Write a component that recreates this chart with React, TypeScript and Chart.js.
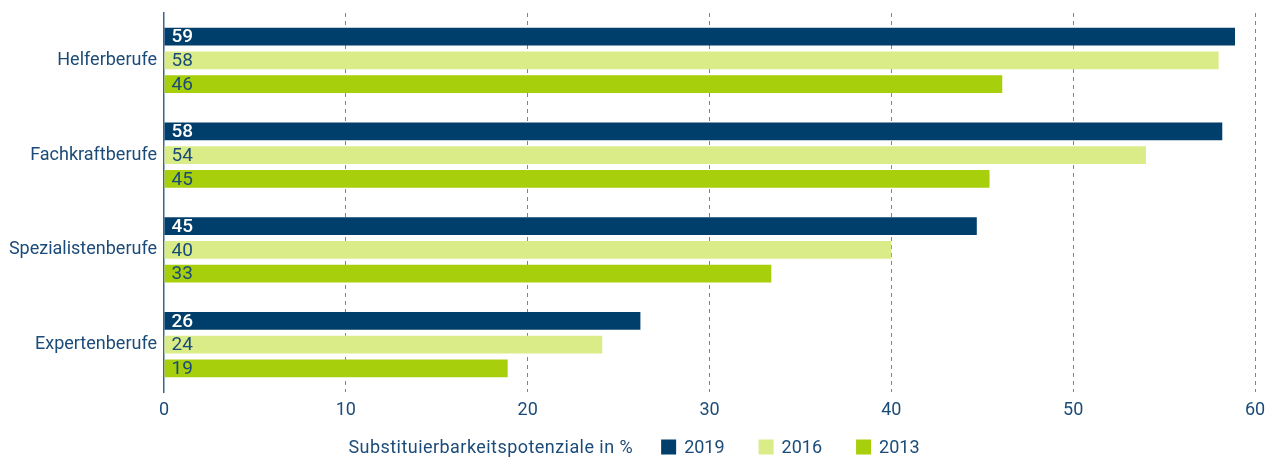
import React, { useEffect, useRef } from "react";
import { Chart, registerables } from "chart.js";

Chart.register(...registerables);

const categories = ["Helferberufe", "Fachkraftberufe", "Spezialistenberufe", "Expertenberufe"];
const seriesNames = ["2019", "2016", "2013"];
const values2019 = [58.9, 58.2, 44.7, 26.2];
const values2016 = [58.0, 54.0, 40.0, 24.1];
const values2013 = [46.1, 45.4, 33.4, 18.9];
const xMin = 0;
const xMax = 60;
const xStep = 10;
const legendTitle = "Substituierbarkeitspotenziale in %";

const FONT = "Roboto";
const TEXT = "#1b4b78";
const DARK = "#003f6b";
const LIGHT = "#d9ec87";
const GREEN = "#a7cf0c";
const GRID = "#6d89a3";

const seriesColors = [DARK, LIGHT, GREEN];
const labelColors = ["#ffffff", TEXT, TEXT];
const labelWeights = ["500", "400", "400"];

const valueLabels = {
  id: "valueLabels",
  afterDatasetsDraw(chart: any) {
    const ctx = chart.ctx;
    ctx.save();
    chart.data.datasets.forEach((ds: any, di: number) => {
      const meta = chart.getDatasetMeta(di);
      meta.data.forEach((el: any, i: number) => {
        const v = ds.data[i];
        ctx.font = `${labelWeights[di]} 19px ${FONT}`;
        ctx.fillStyle = labelColors[di];
        ctx.textAlign = "left";
        ctx.textBaseline = "middle";
        ctx.fillText(String(Math.round(v)), el.base + 7, el.y + 1);
      });
    });
    ctx.restore();
  },
};

const customLegend = {
  id: "customLegend",
  afterDraw(chart: any) {
    const ctx = chart.ctx;
    ctx.save();
    ctx.font = `400 18px ${FONT}`;
    ctx.textBaseline = "middle";
    ctx.textAlign = "left";
    const box = 15;
    const boxGap = 8;
    const titleGap = 28;
    const itemGap = 34;
    (ctx as any).letterSpacing = "0.45px";
    const titleW = ctx.measureText(legendTitle).width;
    (ctx as any).letterSpacing = "0px";
    const itemWs = seriesNames.map((s) => ctx.measureText(s).width);
    let total = titleW + titleGap;
    itemWs.forEach((w, i) => {
      total += box + boxGap + w + (i < itemWs.length - 1 ? itemGap : 0);
    });
    let x = chart.width / 2 - total / 2 - 3;
    const y = 448;
    ctx.fillStyle = TEXT;
    (ctx as any).letterSpacing = "0.45px";
    ctx.fillText(legendTitle, x, y);
    (ctx as any).letterSpacing = "0px";
    x += titleW + titleGap;
    seriesNames.forEach((s, i) => {
      ctx.fillStyle = seriesColors[i];
      ctx.fillRect(x, y - box / 2 - 1, box, box);
      x += box + boxGap;
      ctx.fillStyle = TEXT;
      ctx.fillText(s, x, y);
      x += itemWs[i] + itemGap;
    });
    ctx.restore();
  },
};

export default function App() {
  const ref = useRef<HTMLCanvasElement | null>(null);
  useEffect(() => {
    if (!ref.current) return;
    const values = [values2019, values2016, values2013];
    const chart = new Chart(ref.current, {
      type: "bar",
      data: {
        labels: categories,
        datasets: seriesNames.map((name, i) => ({
          label: name,
          data: values[i],
          backgroundColor: seriesColors[i],
          borderWidth: 0,
          categoryPercentage: 0.75,
          barPercentage: 0.75,
        })),
      },
      options: {
        indexAxis: "y",
        responsive: false,
        animation: false,
        layout: { padding: { top: 13, right: 19, bottom: 40, left: 0 } },
        plugins: {
          legend: { display: false },
          tooltip: { enabled: false },
        },
        scales: {
          x: {
            type: "linear",
            min: xMin,
            max: xMax,
            ticks: {
              stepSize: xStep,
              color: TEXT,
              font: { family: FONT, size: 18 },
              padding: 8,
            },
            grid: {
              color: (c: any) => (c.tick && c.tick.value === 0 ? "rgba(0,0,0,0)" : GRID),
              lineWidth: 1,
              drawTicks: false,
            },
            border: { display: false, dash: [4, 4] },
            afterFit: (s: any) => {
              s.height = 27;
            },
          },
          y: {
            type: "category",
            grid: { display: false, drawTicks: false },
            border: { display: true, color: "#3a6590", width: 1.5 },
            ticks: {
              color: TEXT,
              font: { family: FONT, size: 18 },
              padding: 7,
            },
            afterFit: (s: any) => {
              s.width = 164;
              s.paddingTop = 0;
              s.paddingBottom = 0;
            },
          },
        },
      },
      plugins: [valueLabels, customLegend],
    } as any);
    return () => chart.destroy();
  }, []);
  return (
    <div style={{ position: "fixed", left: 0, top: 0, width: 1274, height: 459, background: "#fff" }}>
      <canvas ref={ref} width={1274} height={459} />
    </div>
  );
}
